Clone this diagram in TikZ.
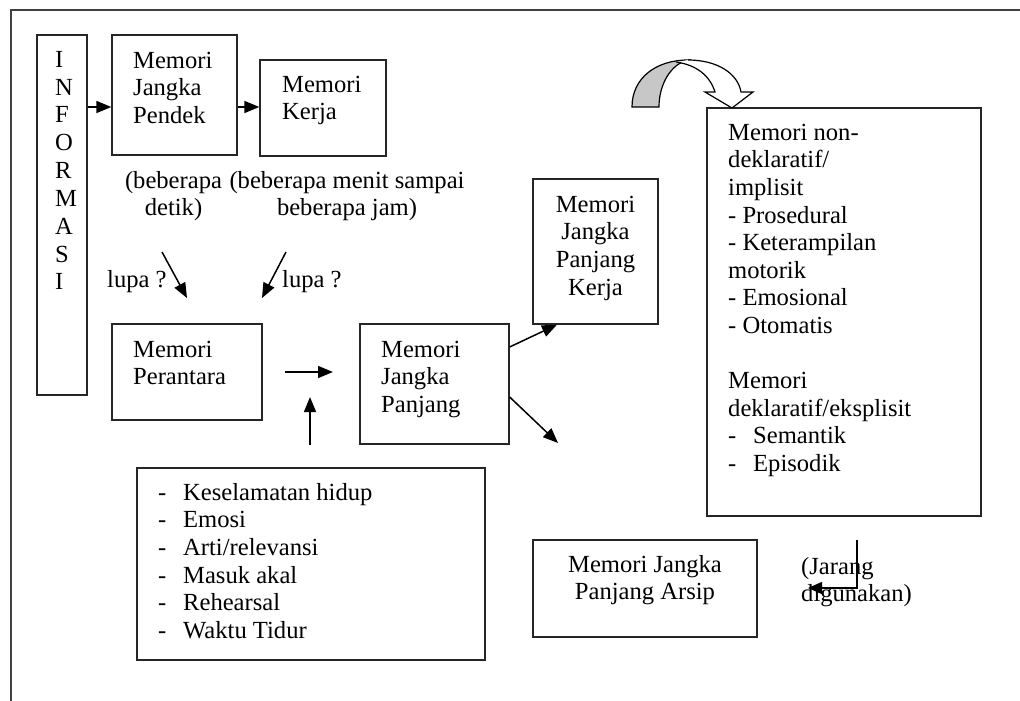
\documentclass[tikz,border=0pt]{standalone}
\usepackage{fontspec}
\setmainfont{Liberation Serif}
\usetikzlibrary{arrows.meta,calc}
\begin{document}
\begin{tikzpicture}[x=1pt,y=-1pt,
  box/.style={draw=black!85,line width=1.3pt,rectangle,inner sep=0pt},
  txt/.style={inner sep=0pt,anchor=north west,align=left,font=\fontsize{24.6}{27.6}\selectfont},
  ctxt/.style={inner sep=0pt,anchor=north,align=center,font=\fontsize{24.6}{27.6}\selectfont},
  arr/.style={line width=1.5pt,-{Triangle[length=15pt,width=12pt]}},
  frameline/.style={line width=1.3pt,black!75}]
\useasboundingbox (0,0) rectangle (1020,701);
% page frame
\coordinate (fa) at (11,701);
\coordinate (fb) at (11,10);
\coordinate (fc) at (1020,10);
\draw[frameline] (fa) -- (fb) -- (fc);
% boxes
\node[box,minimum width=50pt,minimum height=360pt] (info) at (62,215) {};
\node[box,minimum width=125pt,minimum height=120pt] (pendek) at (174.5,95) {};
\node[box,minimum width=126pt,minimum height=96pt] (kerja) at (323,108) {};
\node[box,minimum width=150pt,minimum height=96pt] (perantara) at (187,372) {};
\node[box,minimum width=149pt,minimum height=120pt] (panjang) at (434.5,384) {};
\node[box,minimum width=125pt,minimum height=145pt] (mjpk) at (595.5,251.5) {};
\node[box,minimum width=274pt,minimum height=408pt] (right) at (844,312) {};
\node[box,minimum width=348pt,minimum height=192pt] (list) at (311,564) {};
\node[box,minimum width=224pt,minimum height=97pt] (arsip) at (645,588.5) {};
% texts
\node[txt,font=\fontsize{24.6}{27.85}\selectfont] (tinfo) at (55,47.5) {\strut I\\N\\F\\O\\R\\M\\A\\S\\I};
\node[txt] (tpendek) at (133,48.7) {\strut Memori\\Jangka\\Pendek};
\node[txt] (tkerja) at (282,72.7) {\strut Memori\\Kerja};
\node[ctxt] (tbb1) at (173.5,168.7) {\strut(beberapa\\detik)};
\node[ctxt] (tbb2) at (347,168.7) {\strut(beberapa menit sampai\\beberapa jam)};
\node[txt] (tlupa1) at (107,267.7) {\strut lupa ?};
\node[txt] (tlupa2) at (282,267.7) {\strut lupa ?};
\node[txt] (tperantara) at (133,337.7) {\strut Memori\\Perantara};
\node[txt] (tpanjang) at (381,337.7) {\strut Memori\\Jangka\\Panjang};
\node[ctxt] (tmjpk) at (595.5,192.7) {\strut Memori\\Jangka\\Panjang\\Kerja};
\node[txt] (tright) at (728,120.7) {\strut Memori non-\\deklaratif/\\implisit\\- Prosedural\\- Keterampilan\\motorik\\- Emosional\\- Otomatis\\\strut\\Memori\\deklaratif/eksplisit\\\makebox[25pt][l]{-}Semantik\\\makebox[25pt][l]{-}Episodik};
\node[txt] (tlist) at (158,480.7) {\strut\makebox[25pt][l]{-}Keselamatan hidup\\\makebox[25pt][l]{-}Emosi\\\makebox[25pt][l]{-}Arti/relevansi\\\makebox[25pt][l]{-}Masuk akal\\\makebox[25pt][l]{-}Rehearsal\\\makebox[25pt][l]{-}Waktu Tidur};
\node[ctxt] (tarsip) at (645,552.7) {\strut Memori Jangka\\Panjang Arsip};
\node[txt] (tjarang) at (801,554.7) {\strut(Jarang\\digunakan)};
% connectors
\draw[arr] (info.east |- 0,107) -- (pendek.west |- 0,107);
\draw[arr] (pendek.east |- 0,107) -- (kerja.west |- 0,107);
\coordinate (l1a) at (162,252); \coordinate (l1b) at (187,298);
\coordinate (l2a) at (286,252); \coordinate (l2b) at (262,298);
\draw[arr] (l1a) -- (l1b);
\draw[arr] (l2a) -- (l2b);
\coordinate (ha) at (285,372); \coordinate (hb) at (333,372);
\draw[arr] (ha) -- (hb);
\coordinate (ua) at (310,445); \coordinate (ub) at (310,397);
\draw[arr] (ua) -- (ub);
\draw[arr] (panjang.east |- 0,347) -- (mjpk.south west -| 557,0);
\coordinate (dd) at (558,443);
\draw[arr] (panjang.east |- 0,397) -- (dd);
\coordinate (ja) at (857,540); \coordinate (jb) at (857,588); \coordinate (jc) at (808,588);
\draw[line width=1.5pt,-{Triangle[length=14pt,width=12pt]}] (ja) -- (jb) -- (jc);
% curved block arrow
\draw[line width=1.2pt,fill=black!22] (632,107) .. controls (632,78) and (656,60) .. (688,60)
   .. controls (671,64) and (659,84) .. (659,107) -- cycle;
\draw[line width=1.2pt,fill=white] (688,60) .. controls (718,60) and (738,74) .. (741,92)
   -- (753,92) -- (732,108) -- (705,92) -- (715,92)
   .. controls (710,76) and (697,65) .. (676,62);
\end{tikzpicture}
\end{document}
